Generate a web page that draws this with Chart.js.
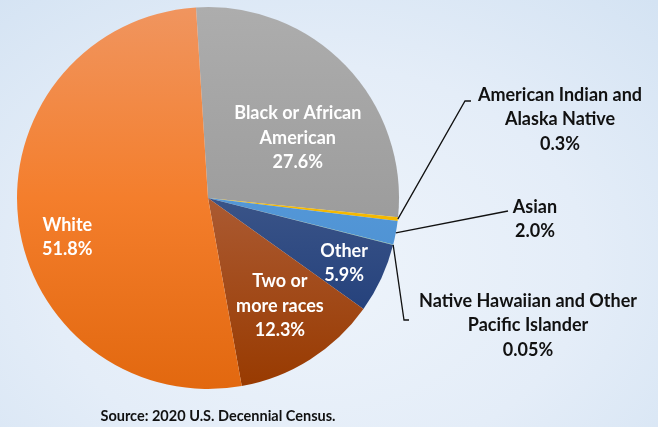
<!DOCTYPE html>
<html>
<head>
<meta charset="utf-8">
<script src="https://cdn.jsdelivr.net/npm/chart.js@4"></script>
<style>
    html, body {
        margin: 0;
        padding: 0;
    }
    body {
        width: 658px;
        height: 427px;
        overflow: hidden;
        background: radial-gradient(ellipse 75% 85% at 48% 62%, #eef4fb 0%, #e4edf8 55%, #d4e3f3 100%);
    }
    .chart-container {
        position: relative;
        width: 658px;
        height: 427px;
    }
</style>
</head>
<body>
<div class="chart-container">
    <canvas id="raceChart"></canvas>
</div>
<script>
// Race shares, 2020 census
const categories = ['Black or African American', 'American Indian and Alaska Native', 'Asian',
    'Native Hawaiian and Other Pacific Islander', 'Other', 'Two or more races', 'White'];
const shares = [27.6, 0.3, 2.0, 0.05, 5.9, 12.3, 51.8];
const labelLines = [['Black or African', 'American'], ['American Indian and', 'Alaska Native'], ['Asian'],
    ['Native Hawaiian and Other', 'Pacific Islander'], ['Other'], ['Two or', 'more races'], ['White']];

// vertical gradient stops for each slice (top of pie -> bottom of pie)
const sliceColors = [
    [[0, '#adadad'], [1, '#8f8f8f']],
    [[0, '#f5b800'], [1, '#f5b800']],
    [[0, '#62a5e2'], [1, '#4589cc']],
    [[0, '#72b39a'], [1, '#72b39a']],
    [[0, '#5a6f9c'], [0.5, '#3a5488'], [1, '#173574']],
    [[0, '#b8704c'], [0.5, '#ab5a32'], [1, '#983a00']],
    [[0, '#f0955f'], [0.5, '#f47e2c'], [1, '#e2680f']]
];

// inside labels: radius fraction + angle shift (deg) from the slice middle
const insideLabels = {
    0: { frac: 0.565, shift: 10.2 },
    4: { frac: 0.79, shift: 0.7 },
    5: { frac: 0.68, shift: -1.3 },
    6: { frac: 0.765, shift: -8.7 }
};
// outside callouts, offsets from the pie centre
const callouts = {
    1: { elbow: [257, -97], tail: 6, text: [352, -103] },
    2: { elbow: [300, 13], tail: 0, text: [327, 9] },
    3: { elbow: [196, 122], tail: 5, text: [320, 103] }
};

const LINE_H = 24.5;
const FONT = 'bold 18px Lato, "Open Sans", sans-serif';

function valueText(v) {
    return (v < 0.1 ? v.toFixed(2) : v.toFixed(1)) + '%';
}

function sliceGradient(context) {
    var chart = context.chart;
    var area = chart.chartArea;
    var stops = sliceColors[context.dataIndex];
    if (!area) return stops[0][1];
    var g = chart.ctx.createLinearGradient(0, area.top, 0, area.bottom);
    stops.forEach(function (s) { g.addColorStop(s[0], s[1]); });
    return g;
}

function drawLines(ctx, lines, x, y) {
    lines.forEach(function (t, i) {
        ctx.fillText(t, x, y + i * LINE_H);
    });
}

const pieLabels = {
    id: 'pieLabels',
    afterDatasetsDraw: function (chart) {
        var ctx = chart.ctx;
        var arcs = chart.getDatasetMeta(0).data;
        ctx.save();
        ctx.font = FONT;
        ctx.textAlign = 'center';
        ctx.textBaseline = 'middle';

        arcs.forEach(function (arc, i) {
            var p = arc.getProps(['x', 'y', 'startAngle', 'endAngle', 'outerRadius'], true);
            var mid = (p.startAngle + p.endAngle) / 2;
            var lines = labelLines[i].concat([valueText(shares[i])]);

            if (insideLabels[i]) {
                var o = insideLabels[i];
                var a = mid + o.shift * Math.PI / 180;
                var r = p.outerRadius * o.frac;
                var cx = p.x + Math.cos(a) * r;
                var cy = p.y + Math.sin(a) * r - (lines.length - 1) * LINE_H / 2;
                ctx.fillStyle = '#ffffff';
                drawLines(ctx, lines, cx, cy);
            } else if (callouts[i]) {
                var c = callouts[i];
                var sx = p.x + Math.cos(mid) * p.outerRadius;
                var sy = p.y + Math.sin(mid) * p.outerRadius;
                var ex = p.x + c.elbow[0];
                var ey = p.y + c.elbow[1];
                ctx.strokeStyle = '#111111';
                ctx.lineWidth = 1.3;
                ctx.beginPath();
                ctx.moveTo(sx, sy);
                ctx.lineTo(ex, ey);
                if (c.tail) ctx.lineTo(ex + c.tail, ey);
                ctx.stroke();
                ctx.fillStyle = '#111111';
                drawLines(ctx, lines, p.x + c.text[0], p.y + c.text[1]);
            }
        });

        // source note
        ctx.font = 'bold 14.5px Lato, "Open Sans", sans-serif';
        ctx.fillStyle = '#111111';
        ctx.fillText('Source: 2020 U.S. Decennial Census.', 218, 416);
        ctx.restore();
    }
};

new Chart(document.getElementById('raceChart'), {
    type: 'pie',
    data: {
        labels: categories,
        datasets: [{
            data: shares,
            backgroundColor: sliceGradient,
            borderWidth: 0
        }]
    },
    options: {
        responsive: true,
        maintainAspectRatio: false,
        animation: false,
        rotation: -3.6,
        layout: {
            padding: { left: 17, top: 7, right: 259, bottom: 38 }
        },
        plugins: {
            legend: { display: false },
            tooltip: { enabled: false }
        }
    },
    plugins: [pieLabels]
});
</script>
</body>
</html>
